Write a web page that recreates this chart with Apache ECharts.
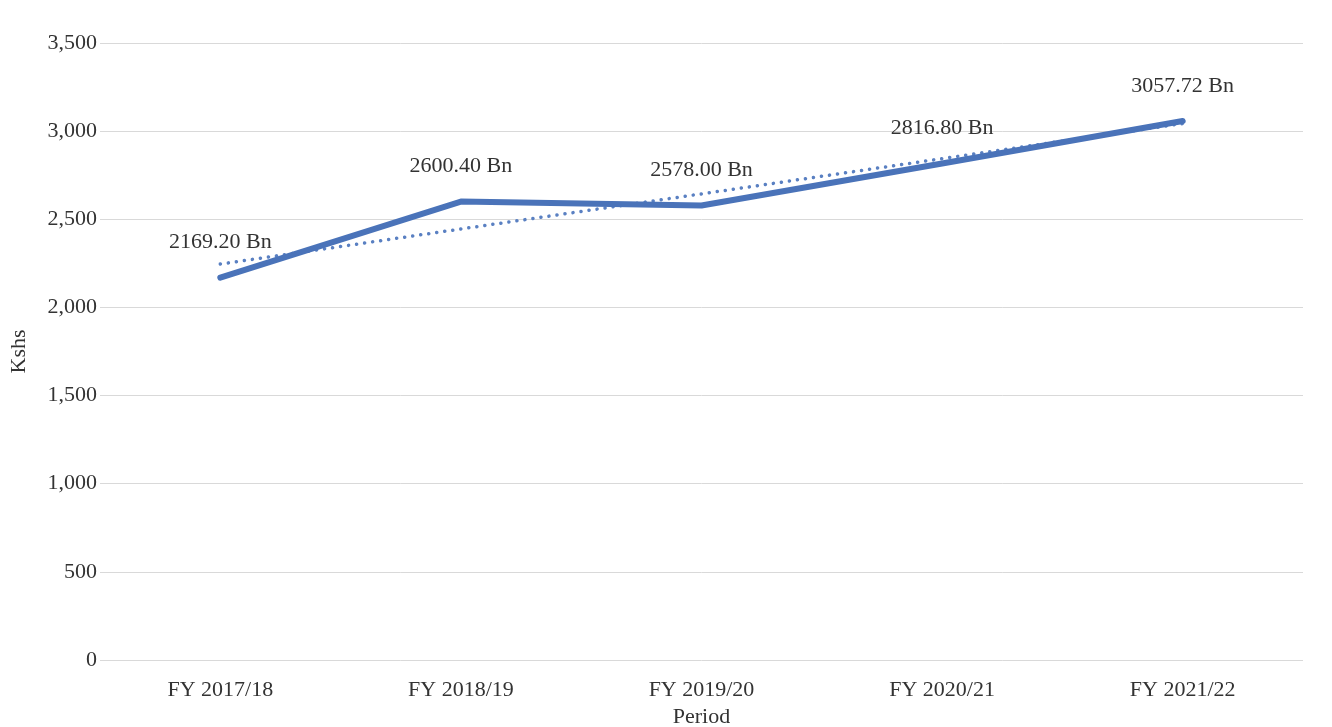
<!DOCTYPE html>
<html>
<head>
<meta charset="utf-8">
<script src="https://cdn.jsdelivr.net/npm/echarts@6/dist/echarts.min.js"></script>
<style>
html, body { margin: 0; padding: 0; background: #fff; }
#chart { width: 1332px; height: 727px; }
</style>
</head>
<body>
<div id="chart"></div>
<script>
const periods = ['FY 2017/18', 'FY 2018/19', 'FY 2019/20', 'FY 2020/21', 'FY 2021/22'];
const revenue = [2169.20, 2600.40, 2578.00, 2816.80, 3057.72];
// dotted trend line
const trend = [2246, 2445, 2644, 2844, 3043];

const lineColor = '#4a73b9';
const font = '"Liberation Serif", "DejaVu Serif", serif';
const textColor = '#333';
const fs = 22;

let chart = echarts.init(document.getElementById('chart'));
chart.setOption({
    backgroundColor: '#fff',
    textStyle: { fontFamily: font },
    grid: { left: 100, right: 29, top: 43, bottom: 67, outerBoundsMode: 'none' },
    xAxis: {
        type: 'category',
        data: periods,
        boundaryGap: true,
        name: 'Period',
        nameLocation: 'middle',
        nameGap: 46,
        nameTextStyle: { fontFamily: font, fontSize: fs, color: textColor },
        axisLine: { show: false },
        axisTick: { show: false },
        axisLabel: { fontFamily: font, fontSize: fs, color: textColor, margin: 19 }
    },
    yAxis: {
        type: 'value',
        min: 0,
        max: 3500,
        interval: 500,
        name: 'Kshs',
        nameLocation: 'middle',
        nameGap: 70,
        nameTextStyle: { fontFamily: font, fontSize: fs, color: textColor },
        axisLine: { show: false },
        axisTick: { show: false },
        axisLabel: {
            fontFamily: font, fontSize: fs, color: textColor, margin: 3,
            formatter: v => v.toLocaleString('en-US')
        },
        splitLine: { lineStyle: { color: '#d9d9d9', width: 1 } }
    },
    series: [
        {
            name: 'Trend',
            type: 'line',
            data: trend,
            symbol: 'none',
            silent: true,
            lineStyle: { color: '#5a80c2', width: 3.5, type: [0.1, 8], cap: 'round' },
            z: 2
        },
        {
            name: 'Revenue',
            type: 'line',
            data: revenue,
            symbol: 'circle',
            symbolSize: 0,
            showSymbol: true,
            lineStyle: { color: lineColor, width: 6, cap: 'round', join: 'round' },
            label: {
                show: true,
                position: 'top',
                distance: 24,
                fontFamily: font,
                fontSize: fs,
                color: textColor,
                formatter: p => p.value.toFixed(2) + ' Bn'
            },
            z: 3
        }
    ]
});
</script>
</body>
</html>
